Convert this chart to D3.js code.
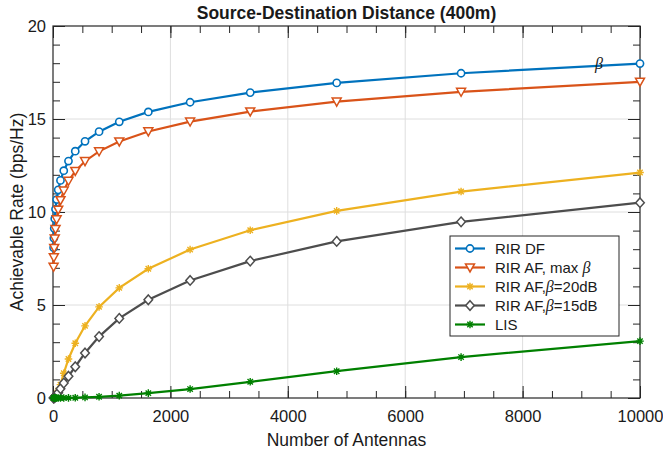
<!DOCTYPE html>
<html>
<head>
<meta charset="utf-8">
<script src="https://cdn.jsdelivr.net/npm/d3@7"></script>
<style>
  body { margin: 0; background: #fff; }
  text { font-family: "Liberation Sans", Arial, sans-serif; fill: #1a1a1a; }
</style>
</head>
<body>
<div id="chart"></div>
<script>
// Data
const antennas = [10, 14.4, 20.7, 29.8, 42.8, 61.6, 88.6, 127.4, 183.3, 263.7,
    379.3, 545.6, 784.8, 1128.8, 1623.8, 2335.7, 3359.8, 4832.9, 6951.9, 10000];

const rirDF = [8.08, 8.6, 9.12, 9.64, 10.15, 10.67, 11.19, 11.7, 12.22, 12.74,
    13.27, 13.8, 14.32, 14.85, 15.38, 15.9, 16.42, 16.94, 17.46, 17.98];
const rirAFmax = [7.05, 7.56, 8.06, 8.57, 9.08, 9.6, 10.12, 10.63, 11.15, 11.67,
    12.2, 12.73, 13.26, 13.79, 14.33, 14.86, 15.4, 15.93, 16.46, 17.0];
const rirAF20 = [0.0, 0.01, 0.02, 0.05, 0.1, 0.2, 0.4, 0.72, 1.33, 2.1,
    2.94, 3.88, 4.9, 5.92, 6.95, 7.98, 9.02, 10.06, 11.1, 12.12];
const rirAF15 = [0.0, 0.01, 0.02, 0.04, 0.08, 0.15, 0.28, 0.5, 0.8, 1.17,
    1.68, 2.42, 3.3, 4.28, 5.28, 6.32, 7.36, 8.42, 9.47, 10.5];
const lis = [0, 0, 0, 0, 0, 0, 0.001, 0.002, 0.004, 0.007,
    0.015, 0.031, 0.064, 0.13, 0.26, 0.48, 0.87, 1.44, 2.2, 3.06];

const xTicks = [0, 2000, 4000, 6000, 8000, 10000];
const yTicks = [0, 5, 10, 15, 20];

// Styles per series (same order as the legend)
const colors = ["#0072BD", "#D95319", "#EDB120", "#4D4D4D", "#008000"];
const markers = ["circle", "triDown", "star", "diamond", "star"];

const series = [
    { label: ["RIR DF"], values: rirDF },
    { label: ["RIR AF, max ", "β", ""], values: rirAFmax },
    { label: ["RIR AF,", "β", "=20dB"], values: rirAF20 },
    { label: ["RIR AF,", "β", "=15dB"], values: rirAF15 },
    { label: ["LIS"], values: lis }
].map((s, i) => ({ ...s, color: colors[i], marker: markers[i] }));

const markerPaths = {
    triDown: "M-4.5,-3.6L4.5,-3.6L0,4.4Z",
    diamond: "M0,-4.8L4.3,0L0,4.8L-4.3,0Z",
    star: "M-3.8,0H3.8M0,-3.8V3.8M-2.7,-2.7L2.7,2.7M-2.7,2.7L2.7,-2.7"
};

function drawMarker(g, type, color, cx, cy) {
    if (type === "circle") {
        g.append("circle").attr("cx", cx).attr("cy", cy).attr("r", 3.6)
            .attr("fill", "#fff").attr("stroke", color).attr("stroke-width", 1.6);
    } else {
        g.append("path").attr("d", markerPaths[type])
            .attr("transform", `translate(${cx},${cy})`)
            .attr("fill", type === "star" ? "none" : "#fff")
            .attr("stroke", color).attr("stroke-width", type === "star" ? 1.4 : 1.5);
    }
}

const width = 663, height = 453;
const margin = { top: 26, right: 23, bottom: 55, left: 53 };
const w = width - margin.left - margin.right;
const h = height - margin.top - margin.bottom;

const svg = d3.select("#chart").append("svg")
    .attr("width", width).attr("height", height);
const g = svg.append("g").attr("transform", `translate(${margin.left},${margin.top})`);

const x = d3.scaleLinear().domain([0, 10000]).range([0, w]);
const y = d3.scaleLinear().domain([0, 20]).range([h, 0]);

// Grid
g.append("g").selectAll("line").data(xTicks.slice(1, -1)).enter().append("line")
    .attr("x1", d => x(d)).attr("x2", d => x(d)).attr("y1", 0).attr("y2", h)
    .attr("stroke", "#dedede").attr("stroke-width", 1);
g.append("g").selectAll("line").data(yTicks.slice(1, -1)).enter().append("line")
    .attr("y1", d => y(d)).attr("y2", d => y(d)).attr("x1", 0).attr("x2", w)
    .attr("stroke", "#dedede").attr("stroke-width", 1);

// Axes with inward ticks on all four sides
const minorX = d3.range(0, 10001, 500);
const minorY = d3.range(0, 21, 1);
function styleAxis(sel) {
    sel.select(".domain").remove();
    sel.selectAll("line").attr("stroke", "#262626");
    sel.selectAll("text").style("font-size", "16.5px").attr("fill", "#1a1a1a")
        .style("font-family", '"Liberation Sans", Arial, sans-serif');
}
g.append("g").attr("transform", `translate(0,${h})`)
    .call(d3.axisBottom(x).tickValues(minorX).tickSize(-7).tickFormat("")).call(styleAxis);
g.append("g").attr("transform", `translate(0,${h})`)
    .call(d3.axisBottom(x).tickValues(xTicks).tickSize(-12).tickPadding(12).tickFormat(d3.format("d")))
    .call(styleAxis);
g.append("g").call(d3.axisTop(x).tickValues(minorX).tickSize(-7).tickFormat("")).call(styleAxis);
g.append("g").call(d3.axisTop(x).tickValues(xTicks).tickSize(-12).tickFormat("")).call(styleAxis);

g.append("g").call(d3.axisLeft(y).tickValues(minorY).tickSize(-7).tickFormat("")).call(styleAxis);
g.append("g").call(d3.axisLeft(y).tickValues(yTicks).tickSize(-12).tickPadding(7)).call(styleAxis);
g.append("g").attr("transform", `translate(${w},0)`)
    .call(d3.axisRight(y).tickValues(minorY).tickSize(-7).tickFormat("")).call(styleAxis);
g.append("g").attr("transform", `translate(${w},0)`)
    .call(d3.axisRight(y).tickValues(yTicks).tickSize(-12).tickFormat("")).call(styleAxis);

g.append("rect").attr("width", w).attr("height", h)
    .attr("fill", "none").attr("stroke", "#262626").attr("stroke-width", 1.2);

// Lines and markers
const line = d3.line().x((d, i) => x(antennas[i])).y(d => y(d));
series.forEach(s => {
    const sg = g.append("g");
    sg.append("path").datum(s.values).attr("d", line)
        .attr("fill", "none").attr("stroke", s.color).attr("stroke-width", 2.2);
    s.values.forEach((v, i) => drawMarker(sg, s.marker, s.color, x(antennas[i]), y(v)));
});

// Beta annotation
g.append("text").attr("x", x(9300)).attr("y", y(17.7))
    .attr("text-anchor", "middle")
    .style("font-family", '"Liberation Serif", "Times New Roman", serif')
    .style("font-style", "italic").style("font-size", "16px").attr("fill", "#333")
    .text("β");

// Legend
const legend = g.append("g").attr("transform", `translate(${450 - margin.left},${236 - margin.top})`);
legend.append("rect").attr("width", 169).attr("height", 100)
    .attr("fill", "#fff").attr("stroke", "#262626").attr("stroke-width", 1);
series.forEach((s, i) => {
    const cy = 12.5 + i * 19;
    legend.append("line").attr("x1", 5).attr("x2", 35).attr("y1", cy).attr("y2", cy)
        .attr("stroke", s.color).attr("stroke-width", 2.2);
    drawMarker(legend, s.marker, s.color, 20, cy);
    const t = legend.append("text").attr("x", 45).attr("y", cy + 5.5).style("font-size", "15px");
    t.append("tspan").text(s.label[0]);
    if (s.label.length > 1) {
        t.append("tspan").style("font-family", '"Liberation Serif", "Times New Roman", serif')
            .style("font-style", "italic").style("font-size", "16px").text(s.label[1]);
        t.append("tspan").text(s.label[2]);
    }
});

// Title and axis labels
svg.append("text").attr("x", margin.left + w / 2).attr("y", 19)
    .attr("text-anchor", "middle").style("font-size", "17.5px").style("font-weight", "bold")
    .text("Source-Destination Distance (400m)");
svg.append("text").attr("x", margin.left + w / 2).attr("y", 446)
    .attr("text-anchor", "middle").style("font-size", "17.5px")
    .text("Number of Antennas");
svg.append("text").attr("transform", `translate(23,${margin.top + h / 2}) rotate(-90)`)
    .attr("text-anchor", "middle").style("font-size", "17.5px")
    .text("Achievable Rate (bps/Hz)");
</script>
</body>
</html>
